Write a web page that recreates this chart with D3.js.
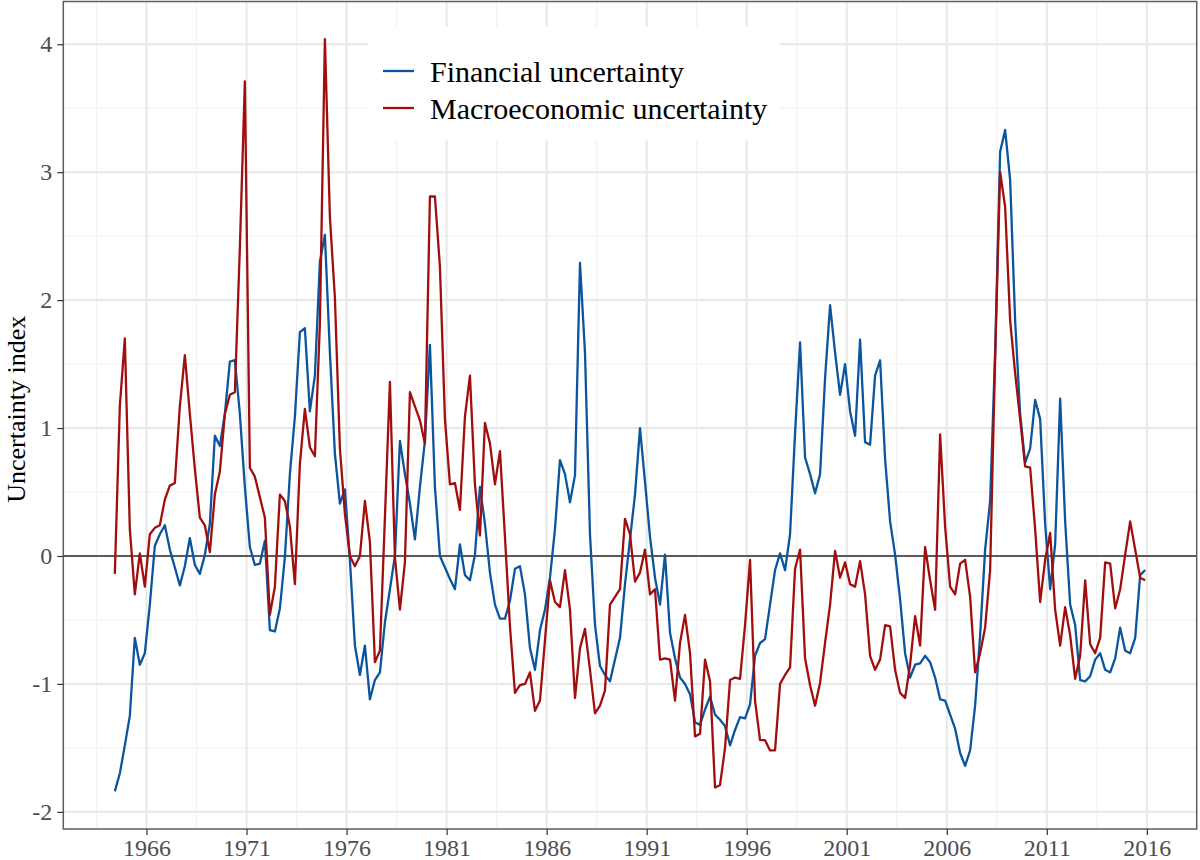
<!DOCTYPE html>
<html>
<head>
<meta charset="utf-8">
<script src="https://cdn.jsdelivr.net/npm/d3@7/dist/d3.min.js"></script>
<style>
  html, body { margin: 0; padding: 0; background: #ffffff; }
  svg { display: block; }
</style>
</head>
<body>
<svg id="chart" width="1200" height="860"></svg>
<script>
// ---- data (quarterly, 1964Q2 .. 2015Q4) ----
const startYear = 1964;
const startQuarter = 2;

const financial = [
  -1.84, -1.70, -1.48, -1.25, -0.64, -0.85, -0.76, -0.38, 0.08, 0.17,
  0.24, 0.05, -0.09, -0.23, -0.08, 0.14, -0.07, -0.14, 0.01, 0.25,
  0.94, 0.86, 1.11, 1.52, 1.53, 1.11, 0.54, 0.07, -0.07, -0.06,
  0.12, -0.58, -0.59, -0.41, -0.01, 0.64, 1.09, 1.75, 1.78, 1.13,
  1.41, 2.30, 2.51, 1.59, 0.80, 0.41, 0.52, -0.03, -0.70, -0.93,
  -0.70, -1.12, -0.97, -0.91, -0.52, -0.26, 0.00, 0.90, 0.64, 0.41,
  0.13, 0.54, 0.90, 1.65, 0.54, 0.00, -0.09, -0.18, -0.26, 0.09,
  -0.15, -0.19, 0.01, 0.54, 0.25, -0.13, -0.38, -0.49, -0.49, -0.35,
  -0.10, -0.08, -0.30, -0.72, -0.89, -0.58, -0.42, -0.17, 0.21, 0.75,
  0.64, 0.42, 0.63, 2.29, 1.59, 0.17, -0.54, -0.86, -0.93, -0.98,
  -0.81, -0.64, -0.22, 0.13, 0.48, 1.00, 0.58, 0.15, -0.17, -0.38,
  0.01, -0.60, -0.80, -0.95, -1.00, -1.08, -1.30, -1.32, -1.20, -1.10,
  -1.24, -1.28, -1.33, -1.48, -1.36, -1.26, -1.27, -1.16, -0.78, -0.68,
  -0.65, -0.38, -0.11, 0.02, -0.11, 0.17, 0.96, 1.67, 0.77, 0.64,
  0.49, 0.64, 1.39, 1.96, 1.59, 1.26, 1.50, 1.13, 0.94, 1.69,
  0.89, 0.87, 1.41, 1.53, 0.76, 0.27, 0.01, -0.34, -0.76, -0.95,
  -0.85, -0.84, -0.78, -0.83, -0.95, -1.12, -1.13, -1.24, -1.35, -1.54,
  -1.64, -1.52, -1.17, -0.62, 0.05, 0.43, 1.59, 3.16, 3.33, 2.94,
  1.84, 1.11, 0.73, 0.84, 1.22, 1.07, 0.25, -0.26, 0.09, 1.23,
  0.27, -0.38, -0.54, -0.97, -0.98, -0.94, -0.81, -0.76, -0.89, -0.91,
  -0.80, -0.56, -0.74, -0.76, -0.64, -0.15, -0.11
];

const macro = [
  -0.14, 1.17, 1.70, 0.21, -0.30, 0.02, -0.24, 0.17, 0.22, 0.24,
  0.44, 0.55, 0.57, 1.17, 1.57, 1.11, 0.68, 0.30, 0.24, 0.03,
  0.48, 0.66, 1.11, 1.26, 1.28, 2.41, 3.71, 0.69, 0.62, 0.46,
  0.30, -0.46, -0.24, 0.48, 0.43, 0.23, -0.22, 0.72, 1.15, 0.85,
  0.78, 1.82, 4.04, 2.65, 2.02, 0.84, 0.33, 0.00, -0.08, 0.00,
  0.43, 0.11, -0.83, -0.74, 0.30, 1.36, -0.01, -0.42, -0.05, 1.28,
  1.17, 1.06, 0.88, 2.81, 2.81, 2.26, 1.07, 0.56, 0.57, 0.36,
  1.09, 1.41, 0.56, 0.16, 1.04, 0.88, 0.56, 0.82, 0.15, -0.55,
  -1.07, -1.01, -1.00, -0.91, -1.21, -1.13, -0.66, -0.19, -0.36, -0.40,
  -0.11, -0.42, -1.11, -0.72, -0.57, -0.89, -1.23, -1.17, -1.05, -0.38,
  -0.32, -0.26, 0.29, 0.17, -0.20, -0.13, 0.05, -0.30, -0.26, -0.81,
  -0.80, -0.81, -1.13, -0.68, -0.46, -0.76, -1.41, -1.39, -0.81, -0.98,
  -1.81, -1.79, -1.50, -0.97, -0.95, -0.96, -0.54, -0.03, -1.13, -1.44,
  -1.44, -1.52, -1.52, -1.00, -0.93, -0.87, -0.10, 0.05, -0.80, -1.01,
  -1.17, -0.99, -0.68, -0.38, 0.04, -0.17, -0.05, -0.22, -0.24, -0.04,
  -0.30, -0.78, -0.89, -0.81, -0.54, -0.55, -0.89, -1.07, -1.11, -0.85,
  -0.47, -0.70, 0.07, -0.19, -0.42, 0.95, 0.23, -0.24, -0.30, -0.06,
  -0.03, -0.32, -0.91, -0.76, -0.56, -0.11, 1.55, 3.00, 2.73, 1.84,
  1.43, 1.07, 0.70, 0.69, 0.21, -0.36, -0.03, 0.18, -0.42, -0.70,
  -0.40, -0.62, -0.96, -0.78, -0.19, -0.69, -0.76, -0.64, -0.05, -0.06,
  -0.41, -0.26, 0.01, 0.27, 0.05, -0.17, -0.19
];

const xTickLabels = ["1966","1971","1976","1981","1986","1991","1996","2001","2006","2011","2016"];
const yTickValues = [-2, -1, 0, 1, 2, 3, 4];
const seriesNames = ["Financial uncertainty", "Macroeconomic uncertainty"];
const seriesColors = ["#0B559E", "#A00E0E"];
const yTitle = "Uncertainty index";

// ---- build time index ----
function quarterTime(i) {
  const q0 = (startQuarter - 1) + i;
  const year = startYear + Math.floor(q0 / 4);
  const q = (q0 % 4) + 1;
  return year + (3 * q - 1) / 12;
}
const series = [financial, macro].map((vals, k) => ({
  name: seriesNames[k],
  color: seriesColors[k],
  points: vals.map((v, i) => ({ t: quarterTime(i), v: v }))
}));

// ---- layout ----
const svg = d3.select("#chart");
const panel = { left: 63.3, right: 1196.7, top: 1.5, bottom: 829 };
const fontFamily = "'Liberation Serif', 'Times New Roman', serif";

const allT = series[0].points.map(d => d.t);
const tMin = d3.min(allT), tMax = d3.max(allT);
const tPad = 0.05 * (tMax - tMin);
const allV = financial.concat(macro);
const vMin = d3.min(allV), vMax = d3.max(allV);
const vPad = 0.05 * (vMax - vMin);

const x = d3.scaleLinear().domain([tMin - tPad, tMax + tPad]).range([panel.left, panel.right]);
const y = d3.scaleLinear().domain([vMin - vPad, vMax + vPad]).range([panel.bottom, panel.top]);

const xMajor = xTickLabels.map(Number);
const xMinor = [];
for (let t = xMajor[0] - 2.5; t <= x.domain()[1]; t += 5) if (t >= x.domain()[0]) xMinor.push(t);
const yMinor = [];
for (let v = -2.5; v <= 4.5; v += 1) if (v >= y.domain()[0] && v <= y.domain()[1]) yMinor.push(v);

const g = svg.append("g");

// panel background
g.append("rect")
  .attr("x", panel.left).attr("y", panel.top)
  .attr("width", panel.right - panel.left).attr("height", panel.bottom - panel.top)
  .attr("fill", "#ffffff");

// minor grid
g.append("g").selectAll("line").data(xMinor).join("line")
  .attr("x1", d => x(d)).attr("x2", d => x(d))
  .attr("y1", panel.top).attr("y2", panel.bottom)
  .attr("stroke", "#F2F2F2").attr("stroke-width", 1.2);
g.append("g").selectAll("line").data(yMinor).join("line")
  .attr("x1", panel.left).attr("x2", panel.right)
  .attr("y1", d => y(d)).attr("y2", d => y(d))
  .attr("stroke", "#F2F2F2").attr("stroke-width", 1.2);

// major grid
g.append("g").selectAll("line").data(xMajor).join("line")
  .attr("x1", d => x(d)).attr("x2", d => x(d))
  .attr("y1", panel.top).attr("y2", panel.bottom)
  .attr("stroke", "#E8E8E8").attr("stroke-width", 2);
g.append("g").selectAll("line").data(yTickValues).join("line")
  .attr("x1", panel.left).attr("x2", panel.right)
  .attr("y1", d => y(d)).attr("y2", d => y(d))
  .attr("stroke", "#E8E8E8").attr("stroke-width", 2);

// zero line
g.append("line")
  .attr("x1", panel.left).attr("x2", panel.right)
  .attr("y1", y(0)).attr("y2", y(0))
  .attr("stroke", "#5A5A5A").attr("stroke-width", 1.8);

// series lines
const line = d3.line().x(d => x(d.t)).y(d => y(d.v));
g.append("g").selectAll("path").data(series).join("path")
  .attr("d", d => line(d.points))
  .attr("fill", "none")
  .attr("stroke", d => d.color)
  .attr("stroke-width", 2.3)
  .attr("stroke-linejoin", "round");

// panel border
g.append("rect")
  .attr("x", panel.left).attr("y", panel.top)
  .attr("width", panel.right - panel.left).attr("height", panel.bottom - panel.top)
  .attr("fill", "none").attr("stroke", "#5E5E5E").attr("stroke-width", 1.5);

// axes
const xAxis = d3.axisBottom(x).tickValues(xMajor).tickFormat((d, i) => xTickLabels[i]).tickSize(6).tickPadding(4);
const yAxis = d3.axisLeft(y).tickValues(yTickValues).tickFormat(d => d < 0 ? "-" + Math.abs(d) : String(d)).tickSize(6).tickPadding(5);

const gx = svg.append("g").attr("transform", `translate(0,${panel.bottom})`).call(xAxis);
const gy = svg.append("g").attr("transform", `translate(${panel.left},0)`).call(yAxis);
[gx, gy].forEach(ax => {
  ax.select(".domain").remove();
  ax.selectAll(".tick line").attr("stroke", "#333333").attr("stroke-width", 1.2);
  ax.selectAll(".tick text")
    .attr("fill", "#4D4D4D")
    .style("font-family", fontFamily)
    .style("font-size", "24px");
});

// y title
svg.append("text")
  .attr("transform", `translate(16,${(panel.top + panel.bottom) / 2 - 6}) rotate(-90)`)
  .attr("text-anchor", "middle")
  .attr("dominant-baseline", "central")
  .style("font-family", fontFamily)
  .style("font-size", "26px")
  .attr("fill", "#000000")
  .text(yTitle);

// legend
const legend = svg.append("g");
legend.append("rect")
  .attr("x", 368).attr("y", 27).attr("width", 412).attr("height", 113)
  .attr("fill", "#ffffff");
const legRows = legend.selectAll("g.row").data(series).join("g")
  .attr("class", "row")
  .attr("transform", (d, i) => `translate(0,${71 + i * 37})`);
legRows.append("line")
  .attr("x1", 383).attr("x2", 414).attr("y1", 0).attr("y2", 0)
  .attr("stroke", d => d.color).attr("stroke-width", 2.3);
legRows.append("text")
  .attr("x", 430).attr("y", 0)
  .attr("dominant-baseline", "central")
  .style("font-family", fontFamily)
  .style("font-size", "30px")
  .attr("fill", "#000000")
  .text(d => d.name);
</script>
</body>
</html>
